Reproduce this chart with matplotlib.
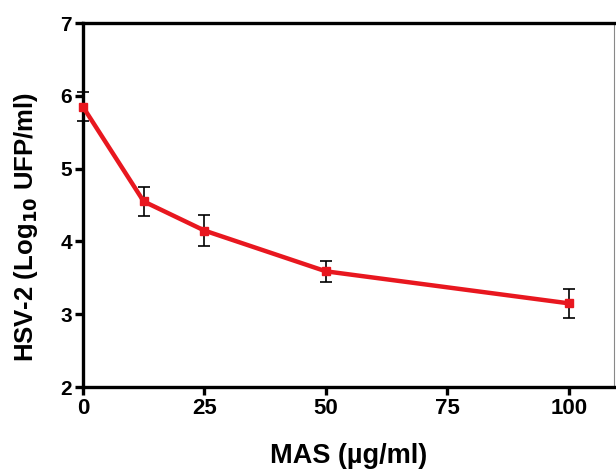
import matplotlib
matplotlib.use("Agg")
import matplotlib.pyplot as plt

dose = [0, 12.5, 25, 50, 100]
titre = [5.85, 4.55, 4.15, 3.59, 3.15]
err = [0.2, 0.2, 0.21, 0.14, 0.2]

xticks = [0, 25, 50, 75, 100]
yticks = [2, 3, 4, 5, 6, 7]

plt.rcParams['font.family'] = ['Liberation Sans', 'DejaVu Sans']
plt.rcParams['font.weight'] = 'bold'

fig = plt.figure(figsize=(6.16, 4.72), dpi=100)
ax = fig.add_axes([0.1347, 0.18, 0.862, 0.771])

ax.errorbar(dose, titre, yerr=err, fmt='none', ecolor='black', elinewidth=1.2,
            capsize=4, capthick=1.2, zorder=2, clip_on=False)
ax.plot(dose, titre, color='#e8171f', linewidth=3.2, marker='s', markersize=6,
        zorder=3, clip_on=False)

ax.set_xlim(0, 109.3)
ax.set_ylim(2, 7)
ax.set_xticks(xticks)
ax.set_yticks(yticks)

for side in ['left', 'bottom', 'top']:
    ax.spines[side].set_linewidth(2.4)
ax.spines['right'].set_linewidth(0.8)
ax.spines['right'].set_color('#888888')

ax.tick_params(axis='both', direction='out', length=6, width=2.4, pad=2)
ax.tick_params(axis='x', labelsize=16)
ax.tick_params(axis='y', labelsize=15)
for lab in ax.get_xticklabels() + ax.get_yticklabels():
    lab.set_fontweight('bold')

ax.set_xlabel('MAS (µg/ml)', fontsize=19.5, fontweight='bold')
ax.xaxis.set_label_coords(0.5, -0.154)
ax.set_ylabel('HSV-2 (Log$_{\\mathbf{10}}$ UFP/ml)', fontsize=18.5, fontweight='bold')
ax.yaxis.set_label_coords(-0.08, 0.44)

fig.savefig('out.png', dpi=100)
